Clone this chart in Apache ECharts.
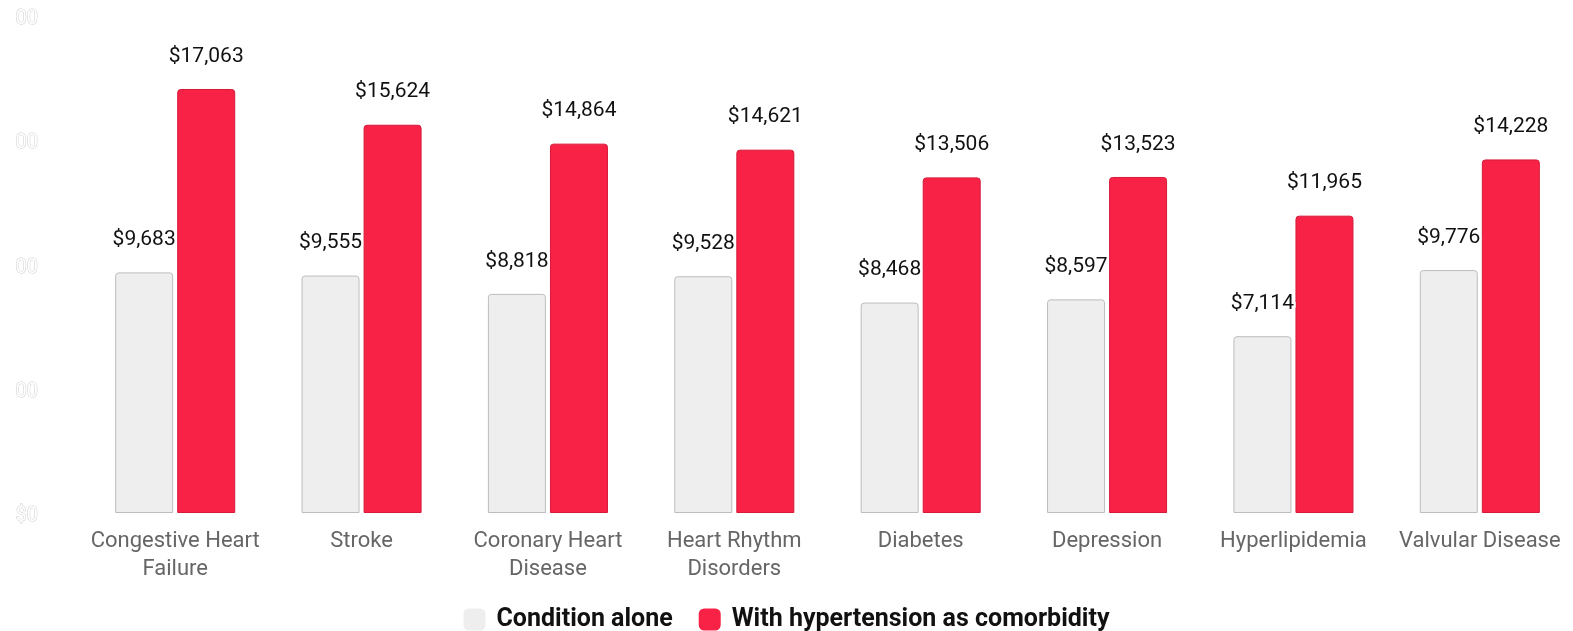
<!DOCTYPE html>
<html>
<head>
<meta charset="utf-8">
<script src="https://cdn.jsdelivr.net/npm/echarts@6/dist/echarts.min.js"></script>
<style>
html,body{margin:0;padding:0;background:#fff;}
#chart{width:1573px;height:631px;}
</style>
</head>
<body>
<div id="chart"></div>
<script>
// Average annual cost per patient, by condition
const categories = [
  'Congestive Heart\nFailure', 'Stroke', 'Coronary Heart\nDisease', 'Heart Rhythm\nDisorders',
  'Diabetes', 'Depression', 'Hyperlipidemia', 'Valvular Disease'
];
const conditionAlone = [9683, 9555, 8818, 9528, 8468, 8597, 7114, 9776];
const withHypertension = [17063, 15624, 14864, 14621, 13506, 13523, 11965, 14228];
const seriesNames = ['Condition alone', 'With hypertension as comorbidity'];

const fmt = v => '$' + v.toLocaleString('en-US');

const chart = echarts.init(document.getElementById('chart'), null, { renderer: 'canvas' });

const labelStyle = {
  show: true,
  position: 'top',
  distance: 22,
  fontFamily: 'Roboto',
  fontSize: 21,
  color: '#111',
  textBorderColor: '#fff',
  textBorderWidth: 4,
  formatter: p => fmt(p.value)
};

chart.setOption({
  animation: false,
  textStyle: { fontFamily: 'Roboto' },
  grid: { left: 82, right: 0, top: 16, bottom: 118, containLabel: false, outerBoundsMode: 'none' },
  // the value-axis label column is clipped at its left edge
  graphic: [{
    type: 'rect',
    left: 0,
    top: 0,
    z: 100,
    shape: { width: 15, height: 560 },
    style: { fill: '#fff' },
    silent: true
  }],
  legend: {
    top: 607,
    left: 'center',
    padding: 0,
    itemWidth: 22,
    itemHeight: 22,
    itemGap: 26,
    icon: 'roundRect',
    itemStyle: { borderWidth: 0 },
    textStyle: { fontFamily: 'Roboto', fontSize: 25, fontWeight: 'bold', color: '#111', padding: [0, 0, 0, 6] },
    data: seriesNames
  },
  xAxis: {
    type: 'category',
    data: categories,
    axisLine: { show: false },
    axisTick: { show: false },
    axisLabel: {
      interval: 0,
      margin: 14,
      fontFamily: 'Roboto',
      fontSize: 22,
      lineHeight: 28,
      color: '#666'
    }
  },
  yAxis: {
    type: 'value',
    min: 0,
    max: 20000,
    interval: 5000,
    splitLine: { show: false },
    axisLine: { show: false },
    axisTick: { show: false },
    axisLabel: {
      margin: 44,
      verticalAlign: 'top',
      lineHeight: 6,
      fontFamily: 'Roboto',
      fontSize: 20,
      color: '#fff',
      textBorderColor: '#cfcfcf',
      textBorderWidth: 1,
      formatter: v => fmt(v)
    }
  },
  series: [
    {
      name: seriesNames[0],
      type: 'bar',
      data: conditionAlone,
      barWidth: 58,
      barGap: '7%',
      itemStyle: { color: '#eeeeee', borderColor: '#bdbdbd', borderWidth: 1, borderRadius: [3, 3, 0, 0] },
      label: labelStyle
    },
    {
      name: seriesNames[1],
      type: 'bar',
      data: withHypertension,
      barWidth: 58,
      itemStyle: { color: '#f72246', borderColor: '#d61a3a', borderWidth: 1, borderRadius: [3, 3, 0, 0] },
      label: labelStyle
    }
  ]
});
</script>
</body>
</html>
